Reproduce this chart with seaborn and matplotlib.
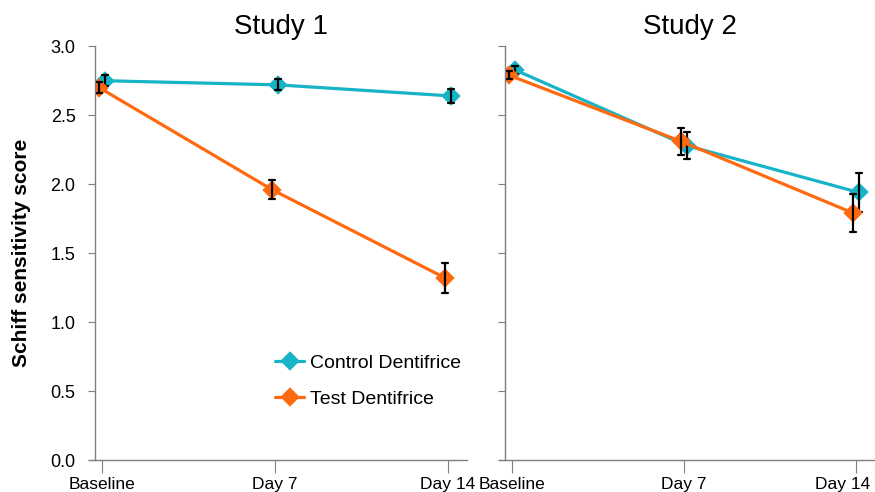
import numpy as np
import pandas as pd
import matplotlib
matplotlib.use("Agg")
import matplotlib.pyplot as plt
import matplotlib.transforms as mtransforms
import seaborn as sns

# values (mean and +/- error)
days = ["Baseline", "Day 7", "Day 14"]
groups = ["Control Dentifrice", "Test Dentifrice"]

study1_control_mean = [2.75, 2.72, 2.64]
study1_control_err  = [0.04, 0.04, 0.05]
study1_test_mean    = [2.70, 1.96, 1.32]
study1_test_err     = [0.04, 0.07, 0.11]

study2_control_mean = [2.83, 2.28, 1.94]
study2_control_err  = [0.03, 0.10, 0.14]
study2_test_mean    = [2.79, 2.31, 1.79]
study2_test_err     = [0.03, 0.10, 0.14]

y_ticks = [0.0, 0.5, 1.0, 1.5, 2.0, 2.5, 3.0]

COLORS = {"Control Dentifrice": "#17B3C6", "Test Dentifrice": "#FF6A10"}
AXIS_GREY = "#7f7f7f"

sns.set_style("ticks")
plt.rcParams["font.family"] = ["Liberation Sans", "DejaVu Sans"]
plt.rcParams.update({
    "text.color": "black",
    "axes.labelcolor": "black",
    "xtick.labelcolor": "black",
    "ytick.labelcolor": "black",
})


def long_frame(ctrl_mean, ctrl_err, test_mean, test_err):
    # two rows per point (mean - err, mean + err): the mean gives the point,
    # the 100% interval gives the error bar
    rows = []
    for grp, means, errs in [(groups[0], ctrl_mean, ctrl_err),
                             (groups[1], test_mean, test_err)]:
        for day, m, e in zip(days, means, errs):
            rows.append({"day": day, "group": grp, "score": m - e})
            rows.append({"day": day, "group": grp, "score": m + e})
    return pd.DataFrame(rows)


df1 = long_frame(study1_control_mean, study1_control_err,
                 study1_test_mean, study1_test_err)
df2 = long_frame(study2_control_mean, study2_control_err,
                 study2_test_mean, study2_test_err)

fig = plt.figure(figsize=(8.75, 4.92), dpi=100)
ax1 = fig.add_axes([0.1086, 0.065, 0.425, 0.841])
ax2 = fig.add_axes([0.577, 0.065, 0.423, 0.841])

for ax, d, title in [(ax1, df1, "Study 1"), (ax2, df2, "Study 2")]:
    sns.pointplot(data=d, x="day", y="score", hue="group", order=days,
                  hue_order=groups, palette=COLORS, estimator="mean",
                  errorbar=("pi", 100), dodge=-0.032, markers="D",
                  linestyles="-", capsize=0.035, markersize=8.5,
                  linewidth=2.3,
                  err_kws={"color": "black", "linewidth": 1.6},
                  legend=(ax is ax1), ax=ax)
    ax.set_ylim(0, 3.0)
    ax.set_xlim(-0.04, 2.11)
    ax.set_yticks(y_ticks)
    ax.set_title(title, fontsize=20, pad=9, color="black")
    ax.set_xlabel("")
    ax.set_ylabel("")
    for side in ["top", "right"]:
        ax.spines[side].set_visible(False)
    for side in ["left", "bottom"]:
        ax.spines[side].set_color(AXIS_GREY)
        ax.spines[side].set_linewidth(1.0)
    ax.spines["bottom"].set_bounds(-0.075, 2.11)
    ax.tick_params(axis="y", length=5, color=AXIS_GREY, labelsize=13, pad=9)
    ax.tick_params(axis="x", length=9, color=AXIS_GREY, labelsize=12.5,
                   pad=3)

ax1.set_yticklabels([f"{v:.1f}" for v in y_ticks])
ax2.set_yticklabels([])

# last label on the right panel sits flush with the figure edge
last = ax2.get_xticklabels()[-1]
last.set_horizontalalignment("right")
last.set_transform(last.get_transform() +
                   mtransforms.ScaledTranslation(0.14, 0, fig.dpi_scale_trans))

ax1.set_ylabel("Schiff sensitivity score", fontsize=15, fontweight="bold",
               color="black")
ax1.yaxis.set_label_coords(-0.172, 0.5)

handles, labels = ax1.get_legend_handles_labels()
leg = ax1.legend(handles, labels, loc="center left",
                 bbox_to_anchor=(0.437, 0.19), frameon=False, fontsize=14,
                 handlelength=1.5, labelspacing=0.95, handletextpad=0.3)
for t in leg.get_texts():
    t.set_color("black")

plt.savefig("out.png", dpi=100)
plt.close()
